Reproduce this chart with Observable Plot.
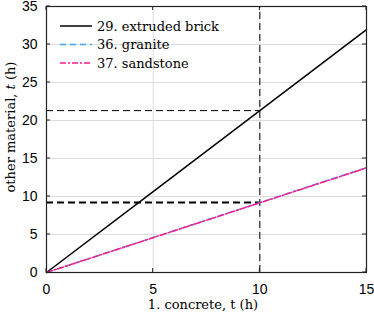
<!DOCTYPE html>
<html>
<head>
<meta charset="utf-8">
<script src="https://cdn.jsdelivr.net/npm/d3@7"></script>
<script src="https://cdn.jsdelivr.net/npm/@observablehq/plot@0.6"></script>
<style>
  html, body { margin: 0; padding: 0; background: #fff; }
  #chart { width: 374px; height: 316px; }
  #chart svg { overflow: visible; }
</style>
</head>
<body>
<div id="chart"></div>
<script>
const concreteT = [0, 5, 10, 15];
const brickT = [0, 10.65, 21.3, 31.95];
const graniteT = [0, 4.6, 9.2, 13.8];
const sandstoneT = [0, 4.58, 9.17, 13.75];
const seriesNames = ["29. extruded brick", "36. granite", "37. sandstone"];
const xTicks = [0, 5, 10, 15];
const yTicks = [0, 5, 10, 15, 20, 25, 30, 35];
const refX = 10;
const refBrick = 21.3;
const refGranite = 9.2;

const rows = [];
concreteT.forEach((x, i) => {
  rows.push({s: seriesNames[0], x, y: brickT[i]});
  rows.push({s: seriesNames[1], x, y: graniteT[i]});
  rows.push({s: seriesNames[2], x, y: sandstoneT[i]});
});
const styles = {
  [seriesNames[0]]: {stroke: "#000000", dash: null},
  [seriesNames[1]]: {stroke: "#3fa0f0", dash: "6,4"},
  [seriesNames[2]]: {stroke: "#ff1a8c", dash: "6,2,2,2"}
};

const sans = "'Liberation Sans', Arial, sans-serif";
const serif = "DejaVu Serif";

const plot = Plot.plot({
  width: 374,
  height: 316,
  marginLeft: 46,
  marginRight: 8,
  marginTop: 6,
  marginBottom: 44,
  style: {fontFamily: sans, fontSize: "14px", background: "#fff", color: "#000", overflow: "visible"},
  x: {type: "linear", domain: [0, 15], ticks: xTicks},
  y: {type: "linear", domain: [0, 35], ticks: yTicks},
  marks: [
    Plot.gridX(xTicks, {stroke: "#dcdcdc", strokeOpacity: 1, strokeWidth: 1}),
    Plot.gridY(yTicks, {stroke: "#dcdcdc", strokeOpacity: 1, strokeWidth: 1}),
    Plot.axisX(xTicks, {anchor: "bottom", tickSize: 0, tickPadding: 12, label: null, fontSize: 14}),
    Plot.axisY(yTicks, {anchor: "left", tickSize: 0, tickPadding: 9, label: null, fontSize: 14}),
    // reference lines
    Plot.ruleY([refBrick], {x1: 0, x2: refX, stroke: "#000", strokeWidth: 1, strokeDasharray: "7,4"}),
    Plot.ruleX([refX], {y1: 0, y2: 35, stroke: "#000", strokeWidth: 1, strokeDasharray: "7,4"}),
    Plot.ruleY([refGranite], {x1: 0, x2: refX, stroke: "#000", strokeWidth: 2, strokeDasharray: "7,4"}),
    Plot.line(rows.filter(d => d.s === seriesNames[0]), {x: "x", y: "y", stroke: styles[seriesNames[0]].stroke, strokeWidth: 1.5}),
    Plot.line(rows.filter(d => d.s === seriesNames[1]), {x: "x", y: "y", stroke: styles[seriesNames[1]].stroke, strokeWidth: 1.5, strokeDasharray: styles[seriesNames[1]].dash}),
    Plot.line(rows.filter(d => d.s === seriesNames[2]), {x: "x", y: "y", stroke: styles[seriesNames[2]].stroke, strokeWidth: 1.5, strokeDasharray: styles[seriesNames[2]].dash}),
    Plot.frame({stroke: "#222", strokeWidth: 1.2})
  ]
});

const svg = d3.select(plot);
const xs = plot.scale("x"), ys = plot.scale("y");
const L = 46, R = 374 - 8, T = 6, B = 316 - 44;
const tg = svg.append("g").attr("stroke", "#222").attr("stroke-width", 1);
xTicks.forEach(t => {
  const px = xs.apply(t);
  tg.append("line").attr("x1", px).attr("x2", px).attr("y1", B).attr("y2", B - 4);
  tg.append("line").attr("x1", px).attr("x2", px).attr("y1", T).attr("y2", T + 4);
});
yTicks.forEach(t => {
  const py = ys.apply(t);
  tg.append("line").attr("x1", L).attr("x2", L + 4).attr("y1", py).attr("y2", py);
  tg.append("line").attr("x1", R).attr("x2", R - 4).attr("y1", py).attr("y2", py);
});

// axis labels
svg.append("text")
  .attr("x", (L + R) / 2 - 3).attr("y", 309)
  .attr("text-anchor", "middle")
  .attr("font-family", serif).style("font-family", serif)
  .style("font-size", "13px")
  .text("1. concrete, t (h)");
const yl = svg.append("text")
  .attr("transform", `translate(15,${(T + B) / 2 - 12}) rotate(-90)`)
  .attr("text-anchor", "middle")
  .attr("font-family", serif).style("font-family", serif)
  .style("font-size", "13px");
yl.append("tspan").text("other material, ");
yl.append("tspan").style("font-style", "italic").text("t");
yl.append("tspan").text(" (h)");

// legend
const lg = svg.append("g");
const rowY = [26, 44.5, 63];
seriesNames.forEach((name, i) => {
  const st = styles[name];
  lg.append("line")
    .attr("x1", 60).attr("x2", 92).attr("y1", rowY[i]).attr("y2", rowY[i])
    .attr("stroke", st.stroke).attr("stroke-width", 1.5)
    .attr("stroke-dasharray", st.dash);
  lg.append("text")
    .attr("x", 97).attr("y", rowY[i]).attr("dy", "0.35em")
    .attr("text-anchor", "start")
    .attr("font-family", serif).style("font-family", serif)
    .style("font-size", "13px")
    .text(name);
});

document.getElementById("chart").appendChild(plot);
</script>
</body>
</html>
